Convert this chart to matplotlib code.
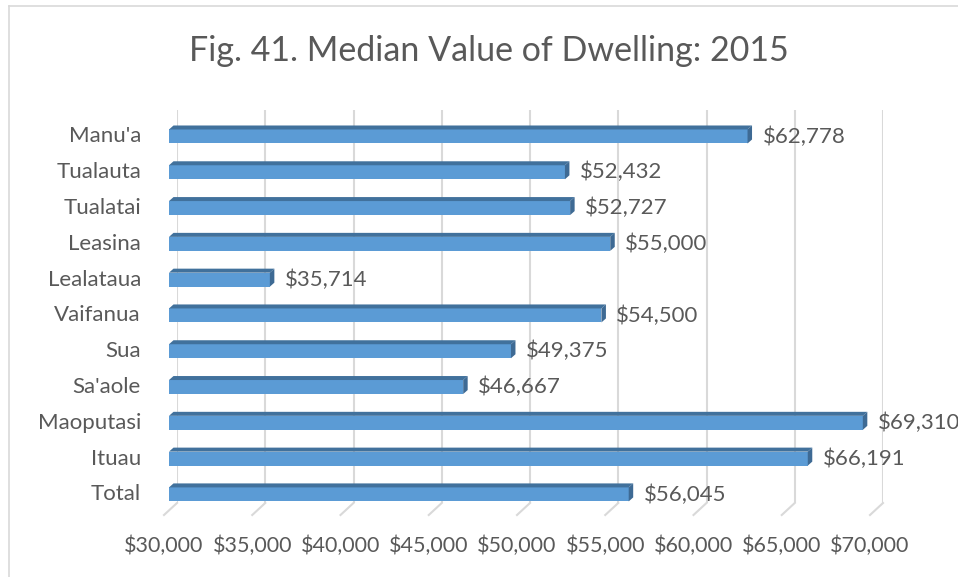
import matplotlib
matplotlib.use("Agg")
import matplotlib.pyplot as plt
from matplotlib.patches import Polygon
from matplotlib.lines import Line2D

categories = ["Total", "Ituau", "Maoputasi", "Sa'aole", "Sua", "Vaifanua",
              "Lealataua", "Leasina", "Tualatai", "Tualauta", "Manu'a"]
values = [56045, 66191, 69310, 46667, 49375, 54500, 35714, 55000, 52727, 52432, 62778]
tick_values = [30000, 35000, 40000, 45000, 50000, 55000, 60000, 65000, 70000]
title = "Fig. 41. Median Value of Dwelling: 2015"

FONT = "Lato"
TEXT = "#595959"
GRID = "#D9D9D9"
FRONT = "#5B9BD5"
TOP = "#41719C"
SIDE = "#3E6A94"
LABEL_SIZE = 16

W, H, DPI = 958, 577, 100
fig = plt.figure(figsize=(W / DPI, H / DPI), dpi=DPI)
fig.patch.set_facecolor("white")

# axes box = back wall of the 3-D plot (pixel geometry)
left, right, top, bottom = 177, 883, 110, 503
ax = fig.add_axes([left / W, (H - bottom) / H, (right - left) / W, (bottom - top) / H])
ax.set_xlim(30000, 70000)
ax.set_ylim(-0.24, 10.74)
ax.axis("off")

to_px = ax.transData.transform
from_px = ax.transData.inverted().transform


def poly(points, color):
    data_pts = from_px(points)
    ax.add_patch(Polygon(data_pts, closed=True, facecolor=color, edgecolor="none",
                         clip_on=False, zorder=3))


# back-wall gridlines and the floor segments running toward the viewer
for g in tick_values:
    ax.plot([g, g], [-0.24, 10.74], color=GRID, lw=1.5, zorder=1, solid_capstyle="butt")
    gx, gy = to_px((g, -0.24))
    pts = from_px([(gx, gy), (gx - 13, gy - 12)])
    ax.add_line(Line2D(pts[:, 0], pts[:, 1], color=GRID, lw=1.5, clip_on=False, zorder=1))
    lx, ly = from_px([(gx - 13, H - 546)])[0]
    ax.text(lx, ly, f"${g:,}", ha="center", va="center", fontsize=15.5,
            color=TEXT, family=FONT, clip_on=False)

# 3-D bars: front face, top face and right side
front_shift = -8
half = 7
depth_x, depth_y = 4.5, 4
for i, (cat, v) in enumerate(zip(categories, values)):
    x0 = to_px((30000, i))[0] + front_shift
    x1, yc = to_px((v, i))
    x1 += front_shift
    poly([(x0, yc - half), (x1, yc - half), (x1, yc + half), (x0, yc + half)], FRONT)
    poly([(x0, yc + half), (x1, yc + half), (x1 + depth_x, yc + half + depth_y),
          (x0 + depth_x, yc + half + depth_y)], TOP)
    poly([(x1, yc - half), (x1, yc + half), (x1 + depth_x, yc + half + depth_y),
          (x1 + depth_x, yc - half + depth_y)], SIDE)
    # value label
    vx, vy = from_px([(x1 + 15, yc)])[0]
    ax.text(vx, vy, f"${v:,}", ha="left", va="center", fontsize=LABEL_SIZE,
            color=TEXT, family=FONT, clip_on=False)
    # category label
    cx, cy = from_px([(141, yc)])[0]
    ax.text(cx, cy, cat, ha="right", va="center", fontsize=LABEL_SIZE,
            color=TEXT, family=FONT, clip_on=False)

fig.text(489 / W, 1 - 51 / H, title, ha="center", va="center", fontsize=24.5,
         color=TEXT, family=FONT)

# chart border (top and left edges visible)
fig.add_artist(Line2D([8.5 / W, 1], [1 - 5.5 / H, 1 - 5.5 / H], color=GRID, lw=1.2,
                      transform=fig.transFigure))
fig.add_artist(Line2D([8.5 / W, 8.5 / W], [0, 1 - 5.5 / H], color=GRID, lw=1.2,
                      transform=fig.transFigure))

fig.savefig("out.png", dpi=DPI)
